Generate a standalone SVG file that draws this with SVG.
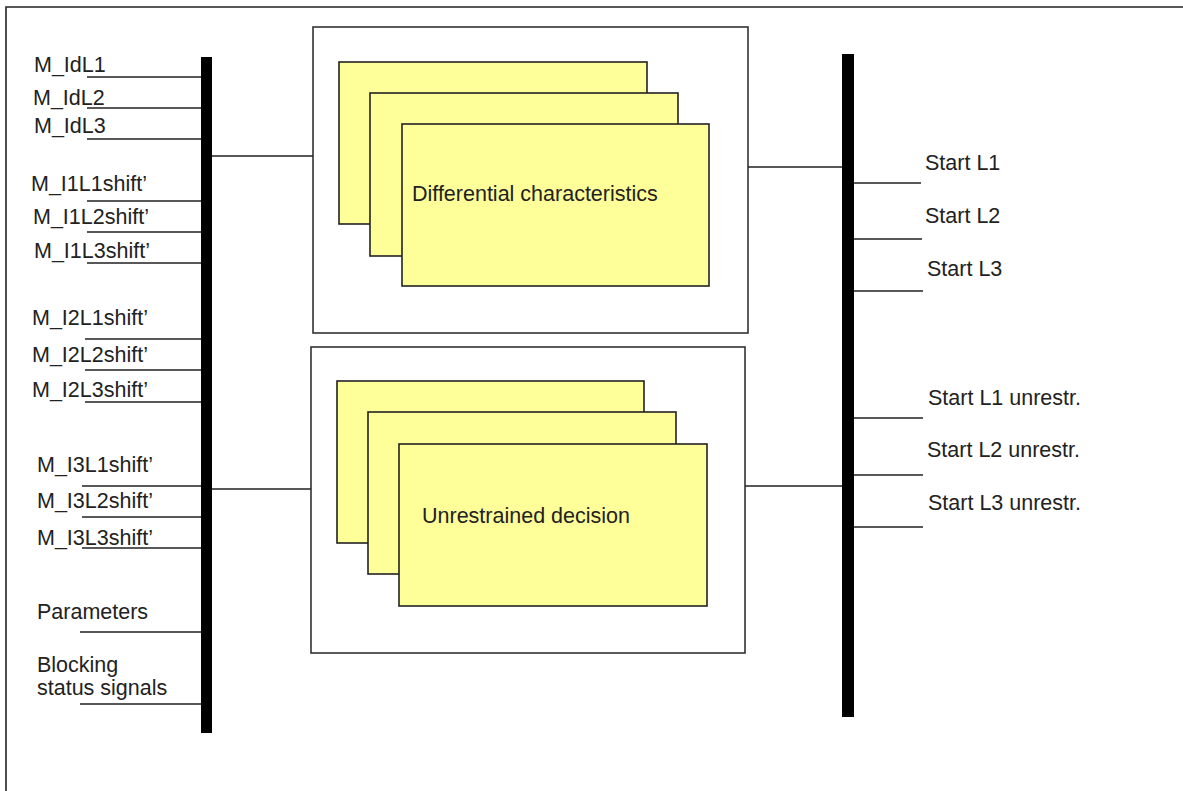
<svg xmlns="http://www.w3.org/2000/svg" width="1183" height="791" viewBox="0 0 1183 791">
<style>
text{font-family:"Liberation Sans",Arial,sans-serif;font-size:21.5px;fill:#222}
.ln{stroke:#222;stroke-width:1.6;fill:none}
.bus{fill:#000}
.outer{fill:#fff;stroke:#333;stroke-width:1.6}
.card{fill:#ffff99;stroke:#222;stroke-width:1.6}
</style>
<rect width="1183" height="791" fill="#fff"/>
<path class="ln" d="M6,791 V7 H1183"/>
<g id="bus-left"><rect class="bus" x="201" y="57" width="11" height="676"/></g>
<g id="bus-right"><rect class="bus" x="842" y="54" width="12" height="663"/></g>
<g id="inputs">
<text x="34" y="72">M_IdL1</text>
<text x="33" y="105">M_IdL2</text>
<text x="34" y="133">M_IdL3</text>
<text x="31" y="191">M_I1L1shift’</text>
<text x="33" y="224">M_I1L2shift’</text>
<text x="34" y="258">M_I1L3shift’</text>
<text x="32" y="325">M_I2L1shift’</text>
<text x="32" y="362">M_I2L2shift’</text>
<text x="32" y="397">M_I2L3shift’</text>
<text x="37" y="472">M_I3L1shift’</text>
<text x="37" y="508">M_I3L2shift’</text>
<text x="37" y="545">M_I3L3shift’</text>
<text x="37" y="619">Parameters</text>
<text x="37" y="672">Blocking</text>
<text x="37" y="695">status signals</text>
</g>
<g id="outputs">
<text x="925" y="170">Start L1</text>
<text x="925" y="223">Start L2</text>
<text x="927" y="276">Start L3</text>
<text x="928" y="405">Start L1 unrestr.</text>
<text x="927" y="457">Start L2 unrestr.</text>
<text x="928" y="510">Start L3 unrestr.</text>
</g>
<g id="diff-char">
<rect class="outer" x="313" y="27" width="435" height="306"/>
<rect class="card" x="339" y="62" width="308" height="162"/>
<rect class="card" x="370" y="93" width="308" height="163"/>
<rect class="card" x="402" y="124" width="307" height="162"/>
<text x="412" y="201">Differential characteristics</text>
</g>
<g id="unrestrained">
<rect class="outer" x="311" y="347" width="434" height="306"/>
<rect class="card" x="337" y="381" width="307" height="162"/>
<rect class="card" x="368" y="412" width="308" height="162"/>
<rect class="card" x="399" y="444" width="308" height="162"/>
<text x="422" y="523">Unrestrained decision</text>
</g>
<g id="connectors">
<path class="ln" d="M87,77 H201 M87,108 H201 M87,139 H201 M87,201 H201 M87,232 H201 M87,263 H201 M85,339 H201 M85,370 H201 M85,402 H201 M82,486 H201 M82,517 H201 M82,548 H201 M80,632 H201 M80,704 H201"/>
<path class="ln" d="M212,156 H313 M212,489 H311 M748,167 H842 M745,486 H842"/>
<path class="ln" d="M854,183 H921 M854,239 H922 M854,291 H923 M854,418 H923 M854,475 H923 M854,527 H923"/>
</g>
</svg>
